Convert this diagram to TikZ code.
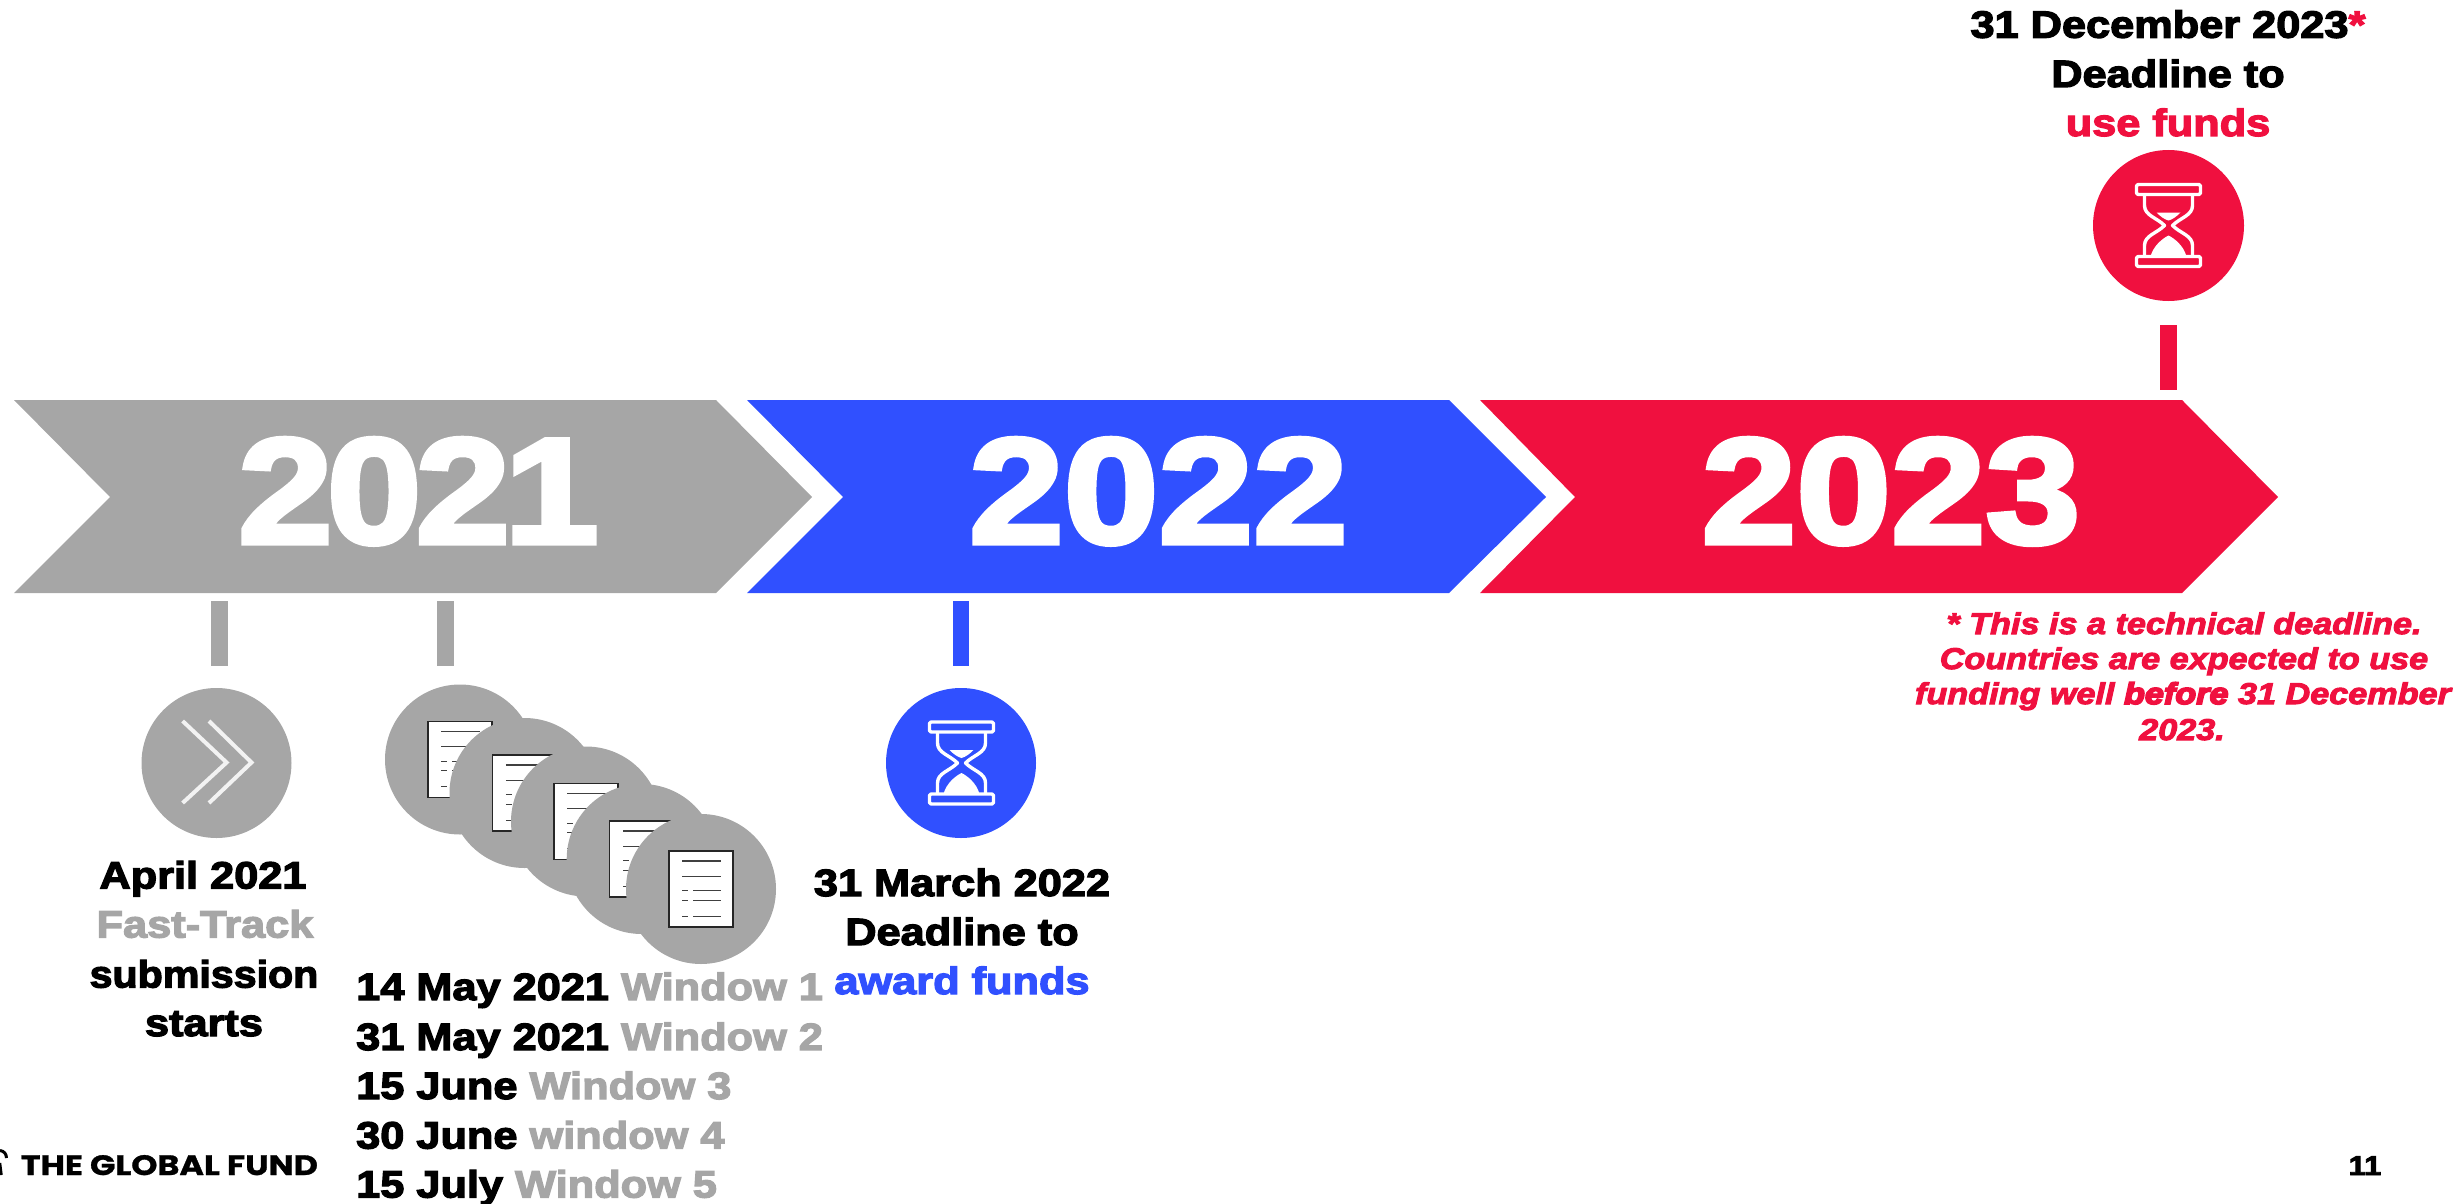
\documentclass[tikz,border=0pt]{standalone}
\usepackage{fontspec}
\setmainfont{Liberation Sans}
\newfontfamily\blk{Liberation Sans}[FakeStretch=1.14,BoldFeatures={FakeBold=3.4},BoldItalicFeatures={FakeBold=3.4}]
\newfontfamily\blkh{Liberation Sans}[FakeStretch=1.14,BoldFeatures={FakeBold=5.5},BoldItalicFeatures={FakeBold=5.5}]
\newfontfamily\yrf{Liberation Sans}[FakeStretch=1.135,BoldFeatures={FakeBold=3.4}]
\newfontfamily\foot{Poppins}[FakeStretch=1.19,BoldFeatures={FakeBold=1}]
\definecolor{gfgrey}{HTML}{A6A6A6}
\definecolor{gfblue}{HTML}{3050FF}
\definecolor{gfred}{HTML}{F0103F}
\tikzset{
  band/.style={draw=none},
  year/.style={text=white,font=\yrf\bfseries\fontsize{150}{150}\selectfont,anchor=base,inner sep=0pt},
  tick/.style={draw=none,inner sep=0pt,minimum width=16.5pt,minimum height=65pt},
  disc/.style={circle,draw=none,inner sep=0pt,minimum size=150pt},
  lab/.style={font=\blk\bfseries\fontsize{38}{38}\selectfont,anchor=base,inner sep=0pt},
  labl/.style={lab,anchor=base west},
  note/.style={font=\blk\bfseries\itshape\fontsize{30}{30}\selectfont,text=gfred,anchor=base,inner sep=0pt},
  docline/.style={draw=black!75,line width=1.1pt},
  hg/.style={draw=white,line width=3.4pt,line join=round},
  pics/hourglass/.style={code={
    \draw[hg,rounded corners=1.5pt] (-32,-41) rectangle (32,-31);
    \draw[hg,rounded corners=1.5pt] (-32,31) rectangle (32,41);
    \draw[hg] (-24,-31) -- (-24,-20) .. controls (-24,-10) and (-12,-8) .. (-4,0) .. controls (-12,8) and (-24,10) .. (-24,20) -- (-24,31);
    \draw[hg] (24,-31) -- (24,-20) .. controls (24,-10) and (12,-8) .. (4,0) .. controls (12,8) and (24,10) .. (24,20) -- (24,31);
    \fill[white] (-12,-13) -- (12,-13) .. controls (8,-9) and (4,-6) .. (0,-5) .. controls (-4,-6) and (-8,-9) .. (-12,-13) -- cycle;
    \fill[white] (-18,31) .. controls (-15,20) and (-6,13) .. (0,10) .. controls (6,13) and (15,20) .. (18,31) -- cycle;
  }},
  pics/doc/.style={code={
    \draw[draw=black!85,fill=white,line width=1.2pt] (-32,-38) rectangle (32,38);
    \draw[docline] (-18.7,-28) -- (19.7,-28);
    \draw[docline] (-18.7,-12.7) -- (19.7,-12.7);
    \draw[docline] (-18.7,1.7) -- (-12.7,1.7) (-8,1.7) -- (19.7,1.7);
    \draw[docline] (-18.7,11.3) -- (-12.7,11.3) (-8,11.3) -- (19.7,11.3);
    \draw[docline] (-18.7,27.3) -- (-12.7,27.3) (-8,27.3) -- (19.7,27.3);
  }}
}
\begin{document}
\begin{tikzpicture}[x=1pt,y=-1pt]
\useasboundingbox (0,0) rectangle (2453,1204);
% bands
\fill[gfgrey,band] (14,400) -- (716,400) -- (812,497) -- (716,593) -- (14,593) -- (110,497) -- cycle;
\fill[gfblue,band] (747,400) -- (1449,400) -- (1546,497) -- (1449,593) -- (747,593) -- (843,497) -- cycle;
\fill[gfred,band] (1480,400) -- (2182,400) -- (2278,497) -- (2182,593) -- (1480,593) -- (1575,497) -- cycle;
\node[year] (y21) at (418.5,543) {2\kern-6pt0\kern-6pt2\kern-6pt1};
\node[year] (y22) at (1158.5,543) {2022};
\node[year] (y23) at (1891,543) {2023};
% ticks
\node[tick,fill=gfgrey] (t1) at (219.5,633.5) {};
\node[tick,fill=gfgrey] (t2) at (445.5,633.5) {};
\node[tick,fill=gfblue] (t3) at (961,633.5) {};
\node[tick,fill=gfred] (t4) at (2168.25,357) {};
% fast-track disc
\node[disc,fill=gfgrey] (ft) at (216.5,763) {};
\draw[white!85!gfgrey,line width=4pt] (182.6,721) -- (226.6,762.5) -- (182.6,803);
\draw[white!85!gfgrey,line width=4pt] (209,721) -- (251.5,762.5) -- (209,803);
% document discs, each one lying over the one before
\foreach \n/\cx/\cy in {1/460/759.5,2/524.5/793,3/586/821.5,4/641.7/859,5/701/889}{
  \node[disc,fill=gfgrey] (d\n) at (\cx,\cy) {};
  \pic at (\cx,\cy) {doc};
}
% hourglass discs
\node[disc,fill=gfblue] (hb) at (961,763) {};
\pic at (961.5,763) {hourglass};
\node[disc,fill=gfred,minimum size=151pt] (hr) at (2168.5,225.5) {};
\pic at (2168.5,225.5) {hourglass};
% labels
\node[lab] (a1) at (203,888.5) {April 2021};
\node[lab,text=gfgrey] (a2) at (205,937.5) {Fast-Track};
\node[lab] (a3) at (204,987.5) {\scalebox{.95}[1]{submission}};
\node[lab] (a4) at (204,1036) {starts};
\node[labl] (w1) at (356,1000) {14 May 2021 \textcolor{gfgrey}{Window 1}};
\node[labl] (w2) at (356,1050) {31 May 2021 \textcolor{gfgrey}{Window 2}};
\node[labl] (w3) at (356,1099) {15 June \textcolor{gfgrey}{Window 3}};
\node[labl] (w4) at (356,1148.5) {30 June \textcolor{gfgrey}{window 4}};
\node[labl] (w5) at (356,1197.5) {15 July \textcolor{gfgrey}{Window 5}};
\node[lab] (b1) at (962,896) {31 March 2022};
\node[lab] (b2) at (962,945) {Deadline to};
\node[lab,text=gfblue] (b3) at (962,994) {award funds};
\node[lab] (c1) at (2168,37.7) {31 December 2023\textcolor{gfred}{*}};
\node[lab] (c2) at (2168,87) {Deadline to};
\node[lab,text=gfred] (c3) at (2168,136) {use funds};
\node[note] (n1) at (2184,634) {* This is a technical deadline.};
\node[note] (n2) at (2184,669) {Countries are expected to use};
\node[note] (n3) at (2183,704) {funding well {\blkh\bfseries\itshape before} 31 December};
\node[note] (n4) at (2182,740) {2023.};
% footer
\draw[black,line width=3pt] (0,1150.5) .. controls (4,1151) and (6.5,1154) .. (6.5,1158);
\draw[black,line width=2.5pt] (0,1163) -- (1.5,1175);
\node[font=\foot\bfseries\fontsize{28}{28}\selectfont,anchor=base west,inner sep=0pt] (gf) at (20.7,1175) {THE GLOBAL FUND};
\node[font=\blk\bfseries\fontsize{27}{27}\selectfont,anchor=base,inner sep=0pt] (pg) at (2365,1175) {11};
\end{tikzpicture}
\end{document}
